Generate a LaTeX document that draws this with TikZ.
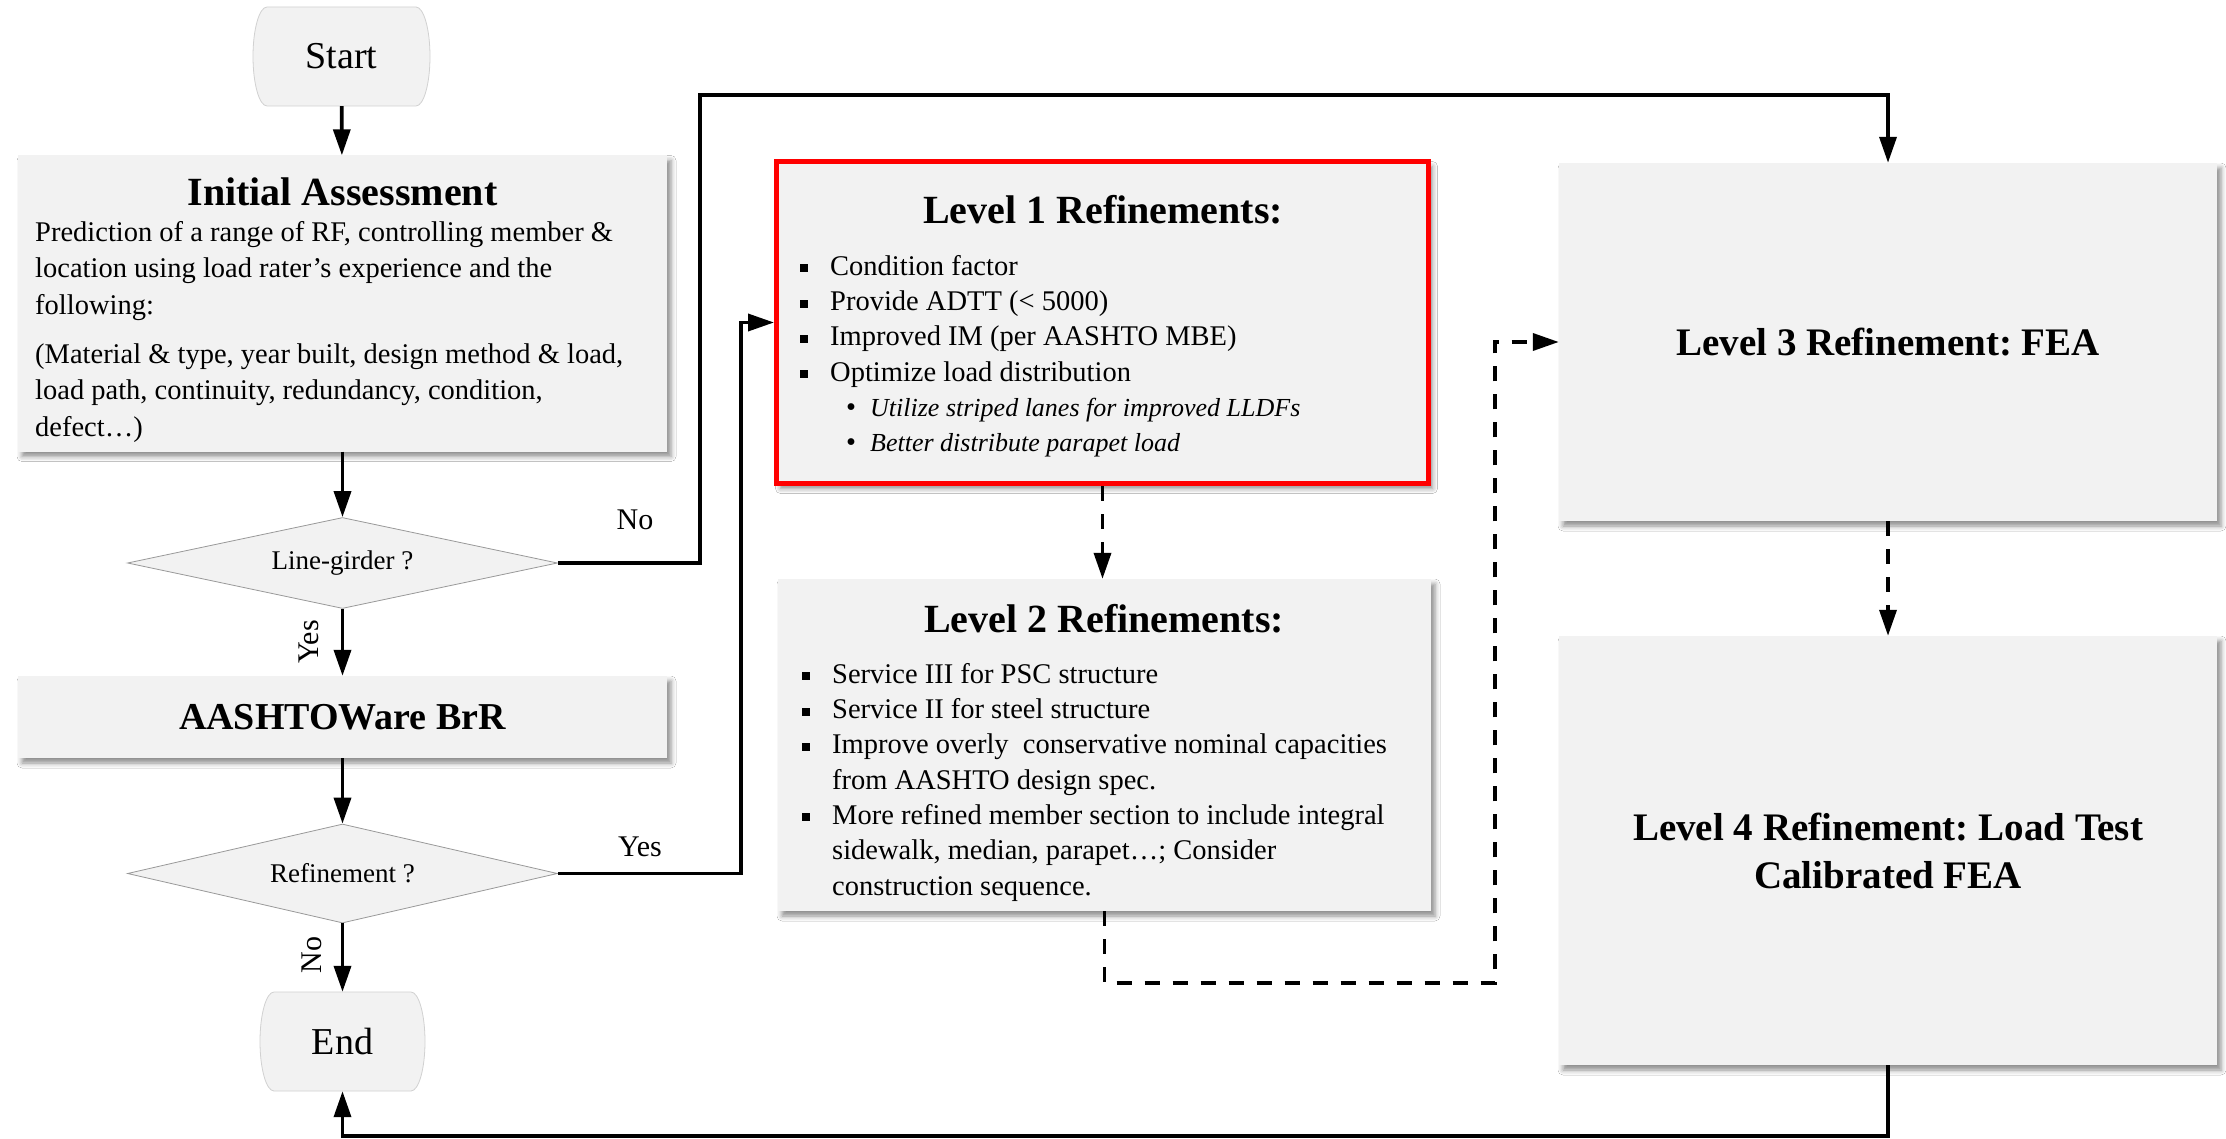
\documentclass[tikz,border=0pt]{standalone}
\usepackage{fontspec}
\setmainfont{Liberation Serif}
\usetikzlibrary{arrows.meta,shapes.geometric,shadows.blur}
\definecolor{boxfill}{HTML}{F2F2F2}
\frenchspacing
\newcommand{\fs}[2]{\fontsize{#1}{#2}\selectfont}
\newcommand{\sqbullet}{\rule[3pt]{8pt}{8pt}}
\newcommand{\dotline}[1]{\hspace*{46pt}\textbullet\hspace{14pt}{\fs{26}{35.3}\itshape #1}}
% outline of a terminal: flat top and bottom, bulging sides
% arguments: centre x, centre y, half width, half height
\newcommand{\termoutline}[4]{%
  \filldraw[termline] ({#1-#3+14},{#2-#4}) -- ({#1+#3-14},{#2-#4})
    .. controls ({#1+#3-6.3},{#2-#4}) and ({#1+#3},{#2-0.552*#4}) .. ({#1+#3},{#2})
    .. controls ({#1+#3},{#2+0.552*#4}) and ({#1+#3-6.3},{#2+#4}) .. ({#1+#3-14},{#2+#4})
    -- ({#1-#3+14},{#2+#4})
    .. controls ({#1-#3+6.3},{#2+#4}) and ({#1-#3},{#2+0.552*#4}) .. ({#1-#3},{#2})
    .. controls ({#1-#3},{#2-0.552*#4}) and ({#1-#3+6.3},{#2-#4}) .. ({#1-#3+14},{#2-#4})
    -- cycle;}

\begin{document}
\begin{tikzpicture}[x=1pt,y=-1pt,
  box/.style={rectangle, fill=boxfill, draw=none, inner sep=0pt,
    blur shadow={shadow xshift=4pt, shadow yshift=-5pt, shadow blur radius=5pt, shadow opacity=45}},
  termline/.style={fill=boxfill, draw=black!18, line width=0.8pt},
  terminal/.style={rectangle, draw=none, inner sep=0pt, font=\fs{38}{40}},
  decision/.style={diamond, aspect=4.75, fill=boxfill, draw=black!40, line width=0.8pt,
    minimum width=430pt, minimum height=91pt, inner sep=0pt, font=\fs{27}{30}},
  ttl/.style={inner sep=0pt, font=\fs{40}{44}\bfseries},
  txt/.style={inner sep=0pt, align=left, font=\fs{28.5}{36.5}},
  lst/.style={inner sep=0pt, align=left, font=\fs{28.5}{35.3}},
  lbl/.style={inner sep=0pt, font=\fs{30}{32}},
  arr/.style={line width=3.6pt, -{Triangle[length=26pt,width=17pt]}},
  dsh/.style={arr, dash pattern=on 15pt off 13pt}
]
\fill[white] (0,0) rectangle (2226,1139);
\useasboundingbox (0,0) rectangle (2226,1139);

% left column: main flow
\termoutline{341.5}{56.5}{88.5}{49.5}
\node[terminal, minimum width=177pt, minimum height=99pt] (start) at (341.5,56.5) {Start};
\node[box, minimum width=649pt, minimum height=296pt] (ia) at (342.5,303.5) {};
\node[ttl, anchor=base] (iatitle) at (342.5,206) {Initial Assessment};
\node[txt, anchor=north west] (iabody) at (35,215.5)
  {\strut Prediction of a range of RF, controlling member \&\\
   location using load rater’s experience and the\\
   following:\\[12.5pt]
   (Material \& type, year built, design method \& load,\\
   load path, continuity, redundancy, condition,\\
   defect…)};
\node[decision] (lg) at (342.5,563) {Line-girder ?};
\node[box, minimum width=649pt, minimum height=82pt, font=\fs{38}{40}\bfseries] (aas) at (342.5,717) {AASHTOWare BrR};
\node[decision, minimum height=99pt] (rf) at (342.5,873.5) {Refinement ?};
\termoutline{342.5}{1041.5}{82.5}{49.5}
\node[terminal, minimum width=165pt, minimum height=99pt] (endn) at (342.5,1041.5) {End};

% level 1 refinements
\node[box, draw=red, line width=5pt, minimum width=652pt, minimum height=322pt] (l1) at (1102.5,322.5) {};
\node[ttl, anchor=base] (l1title) at (1103,224) {Level 1 Refinements:};
\node[lst, anchor=north west] (l1list) at (800,250.3)
  {\strut\sqbullet\hspace{22pt}Condition factor\\
   \sqbullet\hspace{22pt}Provide ADTT (< 5000)\\
   \sqbullet\hspace{22pt}Improved IM (per AASHTO MBE)\\
   \sqbullet\hspace{22pt}Optimize load distribution\\
   \dotline{Utilize striped lanes for improved LLDFs}\\
   \dotline{Better distribute parapet load}};

% level 2 refinements
\node[box, minimum width=653pt, minimum height=332pt] (l2) at (1104.5,745) {};
\node[ttl, anchor=base] (l2title) at (1104,632) {Level 2 Refinements:};
\node[lst, anchor=north west] (l2list) at (802,658.3)
  {\strut\sqbullet\hspace{22pt}Service III for PSC structure\\
   \sqbullet\hspace{22pt}Service II for steel structure\\
   \sqbullet\hspace{22pt}Improve overly\ \ conservative nominal capacities\\
   \hspace*{30pt}from AASHTO design spec.\\
   \sqbullet\hspace{22pt}More refined member section to include integral\\
   \hspace*{30pt}sidewalk, median, parapet…; Consider\\
   \hspace*{30pt}construction sequence.};

% levels 3 and 4
\node[box, minimum width=658pt, minimum height=358pt, font=\fs{39}{48}\bfseries] (l3) at (1888,342) {Level 3 Refinement: FEA};
\node[box, minimum width=658pt, minimum height=429pt, align=center, font=\fs{39}{48}\bfseries] (l4) at (1888,850.5)
  {Level 4 Refinement: Load Test\\Calibrated FEA};

% branch labels
\node[lbl] (lgno) at (635,520) {No};
\node[lbl, rotate=90] (lgyes) at (309,642) {Yes};
\node[lbl] (rfyes) at (640,847) {Yes};
\node[lbl, rotate=90] (rfno) at (312,955) {No};

% connectors
\draw[arr] (start) -- (ia);
\draw[arr] (ia) -- (lg);
\draw[arr] (lg) -- (aas);
\draw[arr] (aas) -- (rf);
\draw[arr] (rf) -- (endn);
\draw[arr] (lg.east) -- ++(142,0) -- ++(0,-468) -| (l3.north);
\draw[arr] (rf.east) -- ++(183,0) |- (l1.west);
\draw[dsh] (l1.south) -- (l1.south |- l2.north);
\coordinate (dturn) at (1495,983);
\draw[dsh] (l2.south) |- (dturn) |- (l3.west);
\draw[dsh] (l3) -- (l4);
\draw[arr] (l4.south) -- ++(0,71) -| (endn.south);
\end{tikzpicture}
\end{document}
